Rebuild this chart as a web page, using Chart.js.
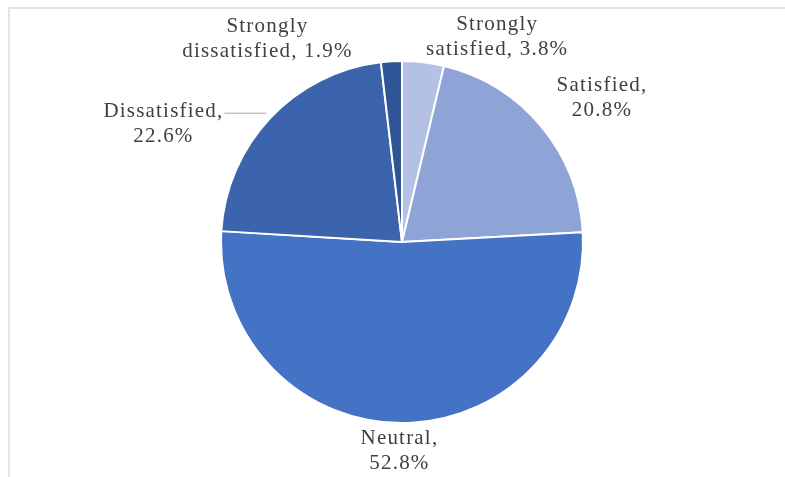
<!DOCTYPE html>
<html>
<head>
<meta charset="utf-8">
<script src="https://cdn.jsdelivr.net/npm/chart.js@4.4.0/dist/chart.umd.min.js"></script>
<style>
  html, body { margin: 0; padding: 0; background: #fff; }
  #wrap { position: relative; width: 785px; height: 477px; }
  #frame { position: absolute; left: 8px; top: 7px; right: 0; bottom: 0;
           border-top: 2px solid #e4e4e4; border-left: 2px solid #e4e4e4; }
  canvas { position: absolute; left: 0; top: 0; }
</style>
</head>
<body>
<div id="wrap">
  <div id="frame"></div>
  <canvas id="chart" width="785" height="477"></canvas>
</div>
<script>
// satisfaction survey shares, clockwise from 12 o'clock
const categories = ['Strongly satisfied', 'Satisfied', 'Neutral', 'Dissatisfied', 'Strongly dissatisfied'];
const shares = [3.8, 20.8, 52.8, 22.6, 1.9];
const labelLines = [
  ['Strongly', 'satisfied, 3.8%'],
  ['Satisfied,', '20.8%'],
  ['Neutral,', '52.8%'],
  ['Dissatisfied,', '22.6%'],
  ['Strongly', 'dissatisfied, 1.9%']
];
const sliceColors = ['#B4C1E4', '#8FA4D6', '#4472C4', '#3B64AD', '#2F5597'];

// where each label sits, relative to the outer edge of its slice
const labelOffsets = [[74, -25], [61, -28], [-2, 28], [-107, 6], [-124, -22]];

const outsideLabels = {
  id: 'outsideLabels',
  afterDatasetsDraw(chart) {
    const ctx = chart.ctx;
    const meta = chart.getDatasetMeta(0);
    ctx.save();
    ctx.font = '21px "Liberation Serif", "Times New Roman", serif';
    ctx.letterSpacing = '1.2px';
    ctx.fillStyle = '#404040';
    ctx.textAlign = 'center';
    ctx.textBaseline = 'middle';
    meta.data.forEach((arc, i) => {
      const p = arc.getProps(['x', 'y', 'startAngle', 'endAngle', 'outerRadius'], true);
      const mid = (p.startAngle + p.endAngle) / 2;
      const ex = p.x + Math.cos(mid) * p.outerRadius;
      const ey = p.y + Math.sin(mid) * p.outerRadius;
      const lx = ex + labelOffsets[i][0];
      const ly = ey + labelOffsets[i][1];
      const lines = labelLines[i];
      const lh = 25;
      lines.forEach((t, k) => {
        ctx.fillText(t, lx, ly + (k - (lines.length - 1) / 2) * lh);
      });
      if (categories[i] === 'Dissatisfied') {
        // leader line from the label to the slice
        const w = ctx.measureText(lines[0]).width;
        const y0 = ly - lh / 2 + 2;
        ctx.strokeStyle = '#a6a6a6';
        ctx.lineWidth = 1;
        ctx.beginPath();
        ctx.moveTo(lx + w / 2 + 1, y0);
        ctx.lineTo(ex - 4, y0);
        ctx.stroke();
      }
    });
    ctx.restore();
  }
};

new Chart(document.getElementById('chart'), {
  type: 'pie',
  data: {
    labels: categories,
    datasets: [{
      data: shares,
      backgroundColor: sliceColors,
      borderColor: '#ffffff',
      borderWidth: 2
    }]
  },
  options: {
    responsive: false,
    animation: false,
    layout: { padding: { left: 220, right: 201, top: 60, bottom: 53 } },
    plugins: {
      legend: { display: false },
      tooltip: { enabled: false }
    }
  },
  plugins: [outsideLabels]
});
</script>
</body>
</html>
